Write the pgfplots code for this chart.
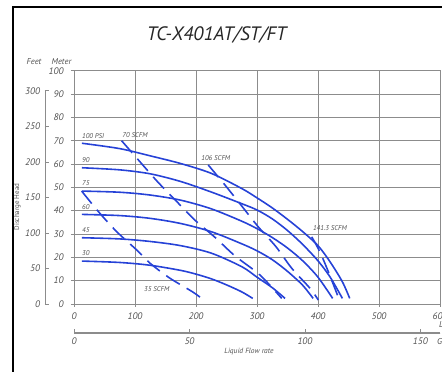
\documentclass[border=0pt]{standalone}
\usepackage{fontspec}
\setmainfont{PT Sans}
\usepackage{pgfplots}
\pgfplotsset{compat=1.18}
\definecolor{curveblue}{RGB}{38,66,215}
\definecolor{gridgray}{RGB}{140,140,140}
\definecolor{txtgray}{RGB}{80,80,80}
\tikzset{
  curve/.style={curveblue, line width=1.6pt, smooth},
  scfm/.style={curveblue, line width=1.6pt, smooth, dash pattern=on 16bp off 8bp},
  lab/.style={font=\fontsize{7}{8}\selectfont\itshape, text=txtgray, inner sep=0pt},
}
\pgfplotsset{/pgf/number format/assume math mode=true}
\begin{document}
\begin{tikzpicture}
\begin{axis}[
  at={(74bp,68bp)}, anchor=south west, scale only axis,
  width=366bp, height=233.3bp,
  xmin=0, xmax=600, ymin=0, ymax=100,
  xtick={0,100,...,600}, ytick={0,10,...,100},
  xtick pos=bottom, ytick pos=left,
  tick align=outside, major tick length=3bp,
  grid=major,
  major grid style={gridgray, line width=0.6pt},
  axis line style={gridgray, line width=0.6pt},
  tick style={gridgray, line width=0.6pt},
  ticklabel style={font=\fontsize{9.5}{11}\selectfont\itshape, text=txtgray},
  xticklabel style={yshift=-2.5bp},
  yticklabel style={xshift=-4bp},
  clip=false,
]
% pressure curves
\addplot[curve] coordinates {(13,18.4)(75,17.8)(125,16.6)(175,14.4)(200,12.8)(225,10.8)(250,8.2)(275,5.2)(293,2.4)};
\addplot[curve] coordinates {(13,28.4)(75,27.9)(125,26.8)(175,25)(225,21.8)(275,16)(300,11.5)(325,7)(346,2.4)};
\addplot[curve] coordinates {(13,38.4)(75,37.9)(125,36.7)(175,34.5)(225,31)(275,25.8)(300,22.8)(325,19)(350,14)(375,8)(392,2.4)};
\addplot[curve] coordinates {(13,48.4)(75,47.9)(125,46.7)(175,44.5)(225,40.8)(275,35.5)(300,32.3)(325,28.5)(350,24)(375,18.5)(400,11.5)(424,2.4)};
\addplot[curve] coordinates {(13,58.4)(75,57.5)(125,55.8)(175,52.5)(225,48)(275,43)(300,40.3)(325,36.5)(350,31.5)(375,25.5)(400,18.5)(420,11.5)(440,2.4)};
\addplot[curve] coordinates {(13,68.9)(75,66.6)(125,63.5)(175,60.2)(225,56)(275,49.5)(300,45.5)(325,41.2)(350,36.3)(375,31)(400,25)(420,18)(440,9.5)(452,2.4)};
% air consumption lines
\addplot[scfm] coordinates {(12.6,48.4)(40,39.6)(70,31)(103,23.1)(125,17.4)(157,11.1)(195,5.1)(208,2.6)};
\addplot[scfm] coordinates {(78,70)(108,61)(137,52.4)(167,44.3)(198,36)(231,28.6)(264,20.6)(305,12.4)(340.5,2.4)};
\addplot[scfm] coordinates {(220,59.6)(247.5,51)(275,42)(302,33.1)(331,24.6)(357,15.3)(387,6.7)(400.5,1.7)};
\addplot[scfm] coordinates {(389.7,28.8)(403,22.4)(417,13.8)(433,3.1)};
% labels
\node[lab, anchor=west] at (axis cs:13,72) {100 PSI};
\node[lab] at (axis cs:100,72.4) {70 SCFM};
\node[lab, anchor=west] at (axis cs:13,61.7) {90};
\node[lab, anchor=west] at (axis cs:13,51.7) {75};
\node[lab, anchor=west] at (axis cs:13,41.7) {60};
\node[lab, anchor=west] at (axis cs:13,31.7) {45};
\node[lab, anchor=west] at (axis cs:13,22) {30};
\node[lab] at (axis cs:232.5,62.7) {106 SCFM};
\node[lab] at (axis cs:419.7,32.4) {141.3 SCFM};
\node[lab] at (axis cs:135.6,6.3) {35 SCFM};
\end{axis}
% feet axis
\begin{axis}[
  at={(45bp,68bp)}, anchor=south west, scale only axis,
  width=0.5bp, height=213.3bp,
  xmin=0, xmax=1, ymin=0, ymax=300,
  hide x axis, ytick={0,50,...,300}, ytick pos=left,
  tick align=inside, major tick length=4bp,
  axis line style={gridgray, line width=0.6pt},
  tick style={gridgray, line width=0.6pt},
  ticklabel style={font=\fontsize{9.5}{11}\selectfont\itshape, text=txtgray},
  yticklabel style={xshift=-1.5bp},
]
\addplot[draw=none] coordinates {(0,0)(1,300)};
\end{axis}
% GPM axis
\begin{axis}[
  at={(74bp,38.7bp)}, anchor=south west, scale only axis,
  width=366bp, height=0.5bp,
  xmin=0, xmax=158.5, ymin=0, ymax=1,
  hide y axis, xtick={0,50,100,150}, xtick pos=bottom,
  tick align=inside, major tick length=4bp,
  axis line style={gridgray, line width=0.6pt},
  tick style={gridgray, line width=0.6pt},
  ticklabel style={font=\fontsize{9.5}{11}\selectfont\itshape, text=txtgray},
  xticklabel style={yshift=-1bp},
]
\addplot[draw=none] coordinates {(0,0)(158.5,1)};
\end{axis}
\node[font=\fontsize{19.5}{22}\selectfont\itshape, text=black!85] at (216.7bp,337bp) {TC-X401AT/ST/FT};
\node[font=\fontsize{8.5}{10}\selectfont\itshape, text=txtgray] at (34bp,310.3bp) {Feet};
\node[font=\fontsize{8.5}{10}\selectfont\itshape, text=txtgray] at (61.5bp,310.3bp) {Meter};
\node[rotate=90, font=\fontsize{7}{8}\selectfont, text=txtgray] at (17.5bp,165bp) {Discharge Head};
\node[font=\fontsize{7.5}{9}\selectfont\itshape, text=txtgray] at (249bp,20.3bp) {Liquid Flow rate};
\node[anchor=west, inner sep=0pt, font=\fontsize{8.5}{10}\selectfont\itshape, text=txtgray] at (439bp,47bp) {LPM};
\node[anchor=west, inner sep=0pt, font=\fontsize{8.5}{10}\selectfont\itshape, text=txtgray] at (437bp,30.3bp) {GPM};
\draw[black, line width=2bp] (13.3bp,-5bp) -- (13.3bp,364.7bp) -- (460bp,364.7bp);
\pgfresetboundingbox
\path[use as bounding box] (0,0) rectangle (442bp,372bp);
\end{tikzpicture}
\end{document}
